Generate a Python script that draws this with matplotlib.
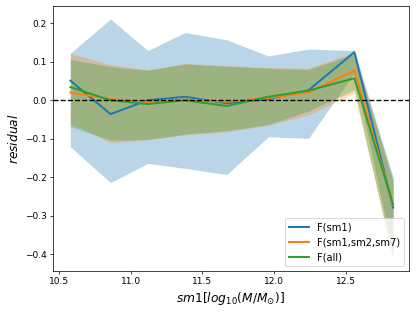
import matplotlib
matplotlib.use("Agg")
import matplotlib.pyplot as plt
import numpy as np

x = [10.58, 10.86, 11.12, 11.38, 11.67, 11.96, 12.24, 12.56, 12.83]

sm1_mean = [0.051, -0.036, 0.0, 0.009, -0.008, 0.003, 0.026, 0.125, -0.279]
sm1_hi = [0.122, 0.211, 0.129, 0.176, 0.157, 0.115, 0.133, 0.129, -0.20]
sm1_lo = [-0.121, -0.214, -0.164, -0.177, -0.193, -0.095, -0.099, 0.072, -0.40]

sm127_mean = [0.020, 0.003, -0.005, 0.002, -0.004, 0.006, 0.020, 0.077, -0.273]
sm127_hi = [0.122, 0.092, 0.079, 0.096, 0.090, 0.085, 0.083, 0.125, -0.21]
sm127_lo = [-0.060, -0.110, -0.103, -0.090, -0.082, -0.065, -0.038, 0.019, -0.41]

all_mean = [0.034, 0.0, -0.010, 0.0, -0.015, 0.009, 0.025, 0.057, -0.271]
all_hi = [0.106, 0.087, 0.078, 0.094, 0.088, 0.083, 0.080, 0.120, -0.21]
all_lo = [-0.068, -0.104, -0.102, -0.088, -0.079, -0.063, -0.028, 0.027, -0.415]

labels = ["F(sm1)", "F(sm1,sm2,sm7)", "F(all)"]

fig = plt.figure(figsize=(6.4, 4.8), dpi=65)
ax = fig.add_axes([0.127, 0.131, 0.856, 0.850])

series = [(sm1_mean, sm1_lo, sm1_hi), (sm127_mean, sm127_lo, sm127_hi), (all_mean, all_lo, all_hi)]
colors = ["C0", "C1", "C2"]
for (m, lo, hi), c in zip(series, colors):
    ax.fill_between(x, lo, hi, color=c, alpha=0.3, linewidth=0)
for (m, lo, hi), c, lab in zip(series, colors, labels):
    ax.plot(x, m, color=c, lw=2.2, label=lab)

ax.axhline(0, color="k", ls="--")
ax.set_xlim(10.458, 12.94)
ax.set_ylim(-0.444, 0.245)
ax.set_xticks([10.5, 11.0, 11.5, 12.0, 12.5])
ax.set_ylabel("$residual$", fontsize=13.5)
ax.set_xlabel(r"$sm1[log_{10}(M/M_{\odot})]$", fontsize=13.5)
ax.legend(loc="lower right", fontsize=11)
fig.savefig("out.png", dpi=65)
